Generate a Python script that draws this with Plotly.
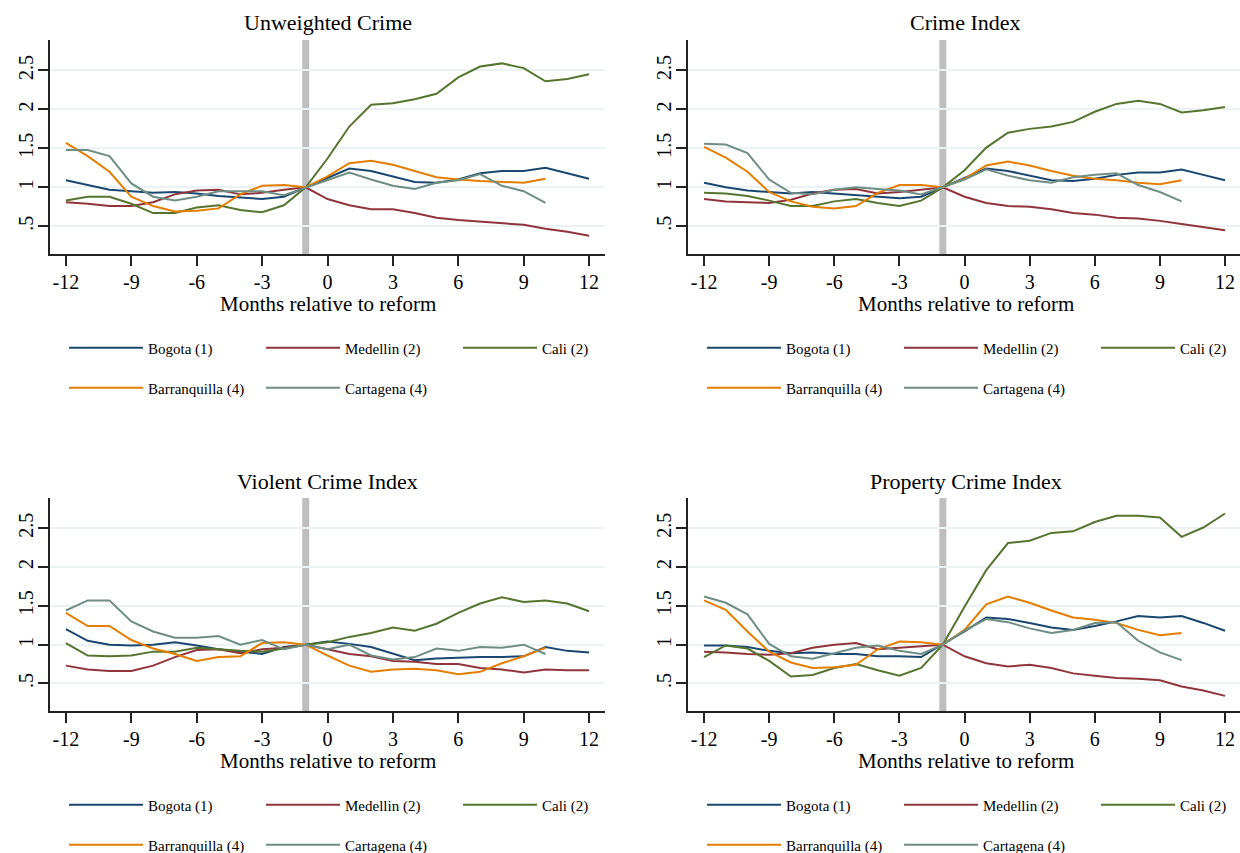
import plotly.graph_objects as go

# ---------------- data ----------------
months = list(range(-12, 13))          # -12 ... 12
months_short = list(range(-12, 11))    # -12 ... 10 (Barranquilla, Cartagena)
reform_month = -1

city_names = ["Bogota (1)", "Medellin (2)", "Cali (2)", "Barranquilla (4)", "Cartagena (4)"]
city_colors = ["#1a476f", "#90353b", "#55752f", "#e37e00", "#6e8e84"]

panel_titles = ["Unweighted Crime", "Crime Index", "Violent Crime Index", "Property Crime Index"]
x_title = "Months relative to reform"
x_ticks = [-12, -9, -6, -3, 0, 3, 6, 9, 12]
x_ticktext = ["-12", "-9", "-6", "-3", "0", "3", "6", "9", "12"]
y_ticks = [0.5, 1, 1.5, 2, 2.5]
y_ticktext = [".5", "1", "1.5", "2", "2.5"]

# Unweighted Crime
unw_bogota = [1.09, 1.03, 0.97, 0.95, 0.93, 0.94, 0.92, 0.89, 0.87, 0.85, 0.88, 1.00, 1.12,
              1.24, 1.21, 1.14, 1.07, 1.06, 1.10, 1.18, 1.21, 1.21, 1.25, 1.18, 1.11]
unw_medellin = [0.81, 0.79, 0.76, 0.76, 0.81, 0.91, 0.96, 0.97, 0.91, 0.93, 0.97, 1.00, 0.85,
                0.77, 0.72, 0.72, 0.67, 0.61, 0.58, 0.56, 0.54, 0.52, 0.47, 0.43, 0.38]
unw_cali = [0.83, 0.88, 0.88, 0.79, 0.67, 0.67, 0.74, 0.77, 0.71, 0.68, 0.77, 1.00, 1.37,
            1.78, 2.06, 2.08, 2.13, 2.20, 2.41, 2.55, 2.59, 2.53, 2.36, 2.39, 2.45]
unw_barranquilla = [1.57, 1.40, 1.20, 0.88, 0.76, 0.69, 0.70, 0.73, 0.91, 1.02, 1.03, 1.00,
                    1.14, 1.31, 1.34, 1.29, 1.21, 1.13, 1.10, 1.08, 1.07, 1.06, 1.11]
unw_cartagena = [1.48, 1.48, 1.40, 1.05, 0.88, 0.83, 0.88, 0.95, 0.95, 0.95, 0.90, 1.00,
                 1.10, 1.19, 1.10, 1.02, 0.98, 1.06, 1.09, 1.17, 1.02, 0.95, 0.80]

# Crime Index
idx_bogota = [1.06, 1.00, 0.96, 0.94, 0.92, 0.94, 0.92, 0.90, 0.88, 0.86, 0.88, 1.00, 1.12,
              1.24, 1.21, 1.15, 1.09, 1.08, 1.11, 1.16, 1.19, 1.19, 1.23, 1.16, 1.09]
idx_medellin = [0.85, 0.82, 0.81, 0.80, 0.84, 0.92, 0.97, 0.98, 0.92, 0.94, 0.97, 1.00, 0.88,
                0.80, 0.76, 0.75, 0.72, 0.67, 0.65, 0.61, 0.60, 0.57, 0.53, 0.49, 0.45]
idx_cali = [0.93, 0.92, 0.89, 0.83, 0.76, 0.76, 0.82, 0.85, 0.80, 0.76, 0.83, 1.00, 1.22,
            1.51, 1.70, 1.75, 1.78, 1.84, 1.97, 2.07, 2.11, 2.07, 1.96, 1.99, 2.03]
idx_barranquilla = [1.52, 1.38, 1.20, 0.94, 0.82, 0.75, 0.73, 0.76, 0.93, 1.03, 1.03, 1.00,
                    1.11, 1.28, 1.33, 1.28, 1.21, 1.15, 1.11, 1.09, 1.06, 1.04, 1.09]
idx_cartagena = [1.56, 1.55, 1.44, 1.10, 0.93, 0.91, 0.97, 1.00, 0.98, 0.96, 0.91, 1.00,
                 1.10, 1.23, 1.15, 1.09, 1.06, 1.13, 1.16, 1.18, 1.03, 0.94, 0.82]

# Violent Crime Index
vio_bogota = [1.20, 1.05, 1.00, 0.99, 1.00, 1.03, 0.99, 0.94, 0.91, 0.88, 0.97, 1.00, 1.04,
              1.01, 0.97, 0.89, 0.80, 0.82, 0.83, 0.84, 0.84, 0.85, 0.97, 0.92, 0.90]
vio_medellin = [0.73, 0.68, 0.66, 0.66, 0.73, 0.84, 0.93, 0.94, 0.89, 0.94, 0.96, 1.00, 0.94,
                0.88, 0.85, 0.79, 0.78, 0.75, 0.75, 0.70, 0.68, 0.64, 0.68, 0.67, 0.67]
vio_cali = [1.02, 0.86, 0.85, 0.86, 0.91, 0.91, 0.96, 0.94, 0.92, 0.91, 0.95, 1.00, 1.03,
            1.10, 1.15, 1.22, 1.18, 1.27, 1.41, 1.53, 1.61, 1.55, 1.57, 1.53, 1.43]
vio_barranquilla = [1.41, 1.24, 1.24, 1.06, 0.95, 0.88, 0.79, 0.84, 0.85, 1.02, 1.03, 1.00,
                    0.86, 0.73, 0.65, 0.68, 0.69, 0.67, 0.62, 0.65, 0.76, 0.85, 0.96]
vio_cartagena = [1.44, 1.57, 1.57, 1.30, 1.17, 1.09, 1.09, 1.11, 1.00, 1.06, 0.94, 1.00,
                 0.94, 1.00, 0.86, 0.81, 0.84, 0.95, 0.92, 0.97, 0.96, 1.00, 0.88]

# Property Crime Index
pro_bogota = [0.99, 0.99, 0.97, 0.92, 0.89, 0.90, 0.88, 0.88, 0.85, 0.85, 0.84, 1.00, 1.17,
              1.35, 1.33, 1.28, 1.22, 1.19, 1.24, 1.30, 1.37, 1.35, 1.37, 1.28, 1.18]
pro_medellin = [0.91, 0.90, 0.88, 0.87, 0.89, 0.96, 1.00, 1.02, 0.94, 0.96, 0.98, 1.00, 0.85,
                0.76, 0.72, 0.74, 0.70, 0.63, 0.60, 0.57, 0.56, 0.54, 0.46, 0.41, 0.34]
pro_cali = [0.84, 0.99, 0.95, 0.79, 0.59, 0.61, 0.70, 0.75, 0.67, 0.60, 0.70, 1.00, 1.49,
            1.96, 2.31, 2.34, 2.44, 2.46, 2.58, 2.66, 2.66, 2.64, 2.39, 2.51, 2.69]
pro_barranquilla = [1.57, 1.45, 1.17, 0.91, 0.77, 0.70, 0.71, 0.74, 0.94, 1.04, 1.03, 1.00,
                    1.19, 1.52, 1.62, 1.54, 1.44, 1.35, 1.32, 1.28, 1.19, 1.12, 1.15]
pro_cartagena = [1.62, 1.54, 1.39, 1.01, 0.85, 0.82, 0.89, 0.96, 0.99, 0.92, 0.88, 1.00,
                 1.18, 1.33, 1.29, 1.21, 1.15, 1.19, 1.28, 1.29, 1.05, 0.90, 0.80]

panel_series = [
    [unw_bogota, unw_medellin, unw_cali, unw_barranquilla, unw_cartagena],
    [idx_bogota, idx_medellin, idx_cali, idx_barranquilla, idx_cartagena],
    [vio_bogota, vio_medellin, vio_cali, vio_barranquilla, vio_cartagena],
    [pro_bogota, pro_medellin, pro_cali, pro_barranquilla, pro_cartagena],
]

# ---------------- layout geometry ----------------
W, H = 1240, 853
FONT = "Liberation Serif, Times New Roman, serif"
GRID = "#eaf2f3"
AXIS = "#222222"

# pixel boxes of plot areas: (left, right, top, bottom)
boxes = [(50, 605, 40, 254), (688, 1240, 40, 254),
         (50, 605, 498, 711), (688, 1240, 498, 711)]
x_ranges = [[-12.73, 12.73], [-12.74, 12.69], [-12.73, 12.73], [-12.74, 12.69]]
y_range = [0.145, 2.89]

fig = go.Figure()
layout = dict(
    width=W, height=H,
    margin=dict(l=0, r=0, t=0, b=0, autoexpand=False),
    paper_bgcolor="white", plot_bgcolor="white",
    font=dict(family=FONT, color="black"),
    shapes=[], annotations=[],
)

for p in range(4):
    l, r, t, b = boxes[p]
    xa = "xaxis" if p == 0 else f"xaxis{p + 1}"
    ya = "yaxis" if p == 0 else f"yaxis{p + 1}"
    xr = "x" if p == 0 else f"x{p + 1}"
    yr = "y" if p == 0 else f"y{p + 1}"
    leg1 = "legend" if p == 0 else f"legend{2 * p + 1}"
    leg2 = f"legend{2 * p + 2}"
    cx = (l + (l + 555)) / 2 / W

    layout[xa] = dict(
        domain=[l / W, r / W], anchor=yr, range=x_ranges[p],
        tickvals=x_ticks, ticktext=x_ticktext,
        ticks="outside", ticklen=10, tickwidth=1.5, tickcolor=AXIS,
        showline=True, linecolor=AXIS, linewidth=1.5, showgrid=False, zeroline=False,
        tickfont=dict(size=20, family=FONT), ticklabelstandoff=-1,
    )
    layout[ya] = dict(
        domain=[1 - b / H, 1 - t / H], anchor=xr, range=y_range,
        tickvals=y_ticks, ticktext=y_ticktext, tickangle=-90,
        ticks="outside", ticklen=10, tickwidth=1.5, tickcolor=AXIS,
        showline=True, linecolor=AXIS, linewidth=1.5,
        showgrid=True, gridcolor=GRID, gridwidth=2, zeroline=False,
        tickfont=dict(size=20, family=FONT), ticklabelstandoff=-3,
    )

    # reform marker
    layout["shapes"].append(dict(
        type="line", xref=xr, yref=f"{yr} domain", x0=reform_month, x1=reform_month,
        y0=0, y1=1, line=dict(color="#bebebe", width=7), layer="below"))

    # panel title
    layout["annotations"].append(dict(
        text=panel_titles[p], xref="paper", yref="paper",
        x=cx, y=1 - (t - 17) / H,
        xanchor="center", yanchor="middle", showarrow=False,
        font=dict(size=22, family=FONT)))
    # x-axis title
    layout["annotations"].append(dict(
        text=x_title, xref="paper", yref="paper",
        x=cx, y=1 - (b + 50) / H,
        xanchor="center", yanchor="middle", showarrow=False,
        font=dict(size=21, family=FONT)))

    # legends (two rows)
    leg_x = (l + 14) / W
    for leg, row_y in ((leg1, b + 94), (leg2, b + 134)):
        layout[leg] = dict(
            orientation="h", x=leg_x, y=1 - row_y / H, xanchor="left", yanchor="middle",
            entrywidth=108, entrywidthmode="pixels", itemwidth=74,
            font=dict(size=15, family=FONT), bgcolor="rgba(0,0,0,0)",
            traceorder="normal")

    for c in range(5):
        xs = months if len(panel_series[p][c]) == len(months) else months_short
        fig.add_trace(go.Scatter(
            x=xs, y=panel_series[p][c], mode="lines", name=city_names[c],
            line=dict(color=city_colors[c], width=2),
            xaxis=xr, yaxis=yr, legend=leg1 if c < 3 else leg2,
            hoverinfo="skip"))

fig.update_layout(**layout)
fig.write_html("out.html")
